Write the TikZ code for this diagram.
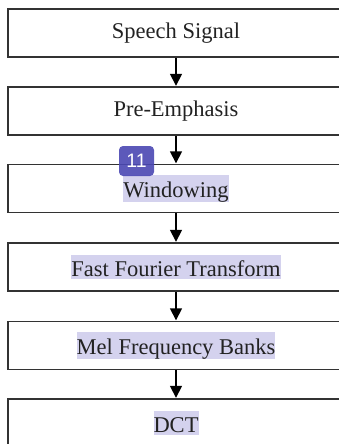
\documentclass[tikz,border=0pt]{standalone}
\usepackage{fontspec}
\setmainfont{Liberation Serif}
\newfontfamily\badgefont{Liberation Sans}
\usetikzlibrary{arrows.meta}
\definecolor{hl}{HTML}{D4D2EE}
\definecolor{badgec}{HTML}{4A47B3}
\definecolor{txt}{HTML}{222222}
\newcommand{\hlt}[1]{{\setlength{\fboxsep}{0pt}\colorbox{hl}{\rule[-0.1em]{0pt}{1.08em}#1}}}
\begin{document}
\begin{tikzpicture}[x=1pt,y=-1pt,
  stage/.style={draw=black!80, line width=1.6pt, minimum width=336pt, minimum height=48pt,
    inner sep=0pt, text=txt, font=\fontsize{22.5}{27}\selectfont},
  flow/.style={draw=black, line width=1.6pt, -{Triangle[width=12pt,length=12pt]}, shorten >=0.4pt},
  badge/.style={fill=badgec, fill opacity=0.9, text opacity=1, rounded corners=4pt, minimum width=35pt,
    minimum height=30pt, inner sep=0pt, text=white, font=\badgefont\fontsize{19.5}{22}\selectfont}]
\clip (0,0) rectangle (339,444);
\node[stage] (s1) at (176,33) {Speech Signal};
\node[stage] (s2) at (176,111) {Pre-Emphasis};
\node[stage] (s3) at (176,188.5) {\hlt{Windowing}};
\node[stage] (s4) at (176,267) {\hlt{Fast Fourier Transform}};
\node[stage] (s5) at (176,345.5) {\hlt{Mel Frequency Banks}};
\node[stage] (s6) at (176,423) {\hlt{DCT}};
\draw[flow] (s1) -- (s2);
\draw[flow] (s2) -- (s3);
\draw[flow] (s3) -- (s4);
\draw[flow] (s4) -- (s5);
\draw[flow] (s5) -- (s6);
\node[badge] (b11) at (136.5,161) {11};
\end{tikzpicture}
\end{document}
